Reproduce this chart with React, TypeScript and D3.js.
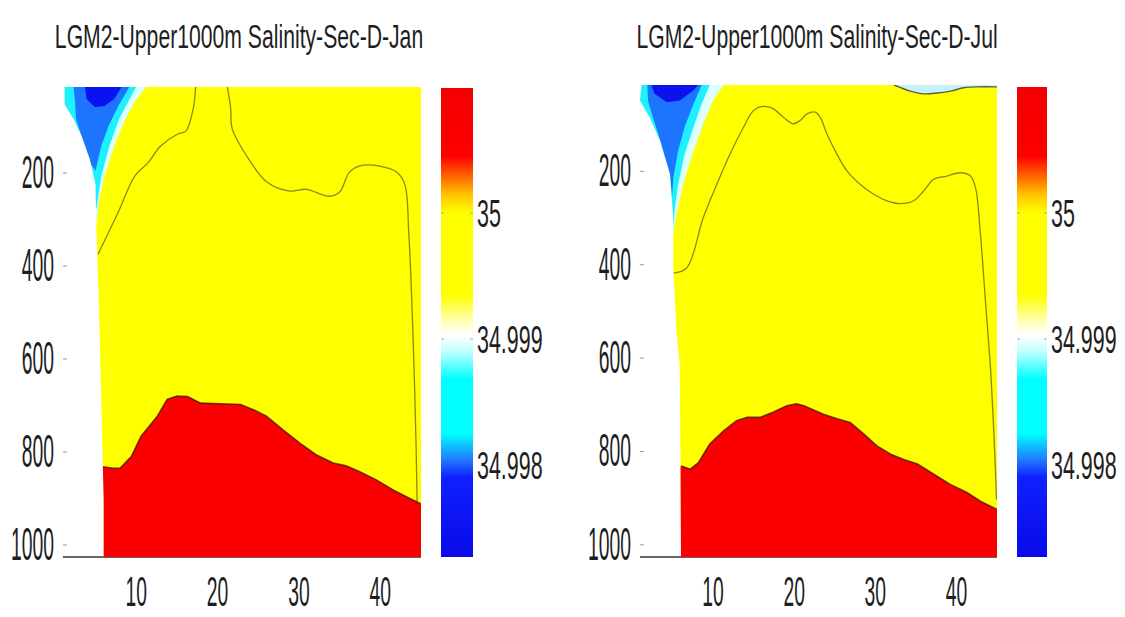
import React from 'react';
import * as d3 from 'd3';

type Pt = [number, number];

// axes
const xDomain: [number, number] = [1, 45];
const depthDomain: [number, number] = [15, 1026];
const xTicks = [10, 20, 30, 40];
const depthTicks = [200, 400, 600, 800, 1000];

// colorbar
const cbarTicks = [35, 34.999, 34.998];
const cbarTickLabels = ['35', '34.999', '34.998'];
const cbarStops = [35.00099, 35.00045, 35.0003, 35.00015, 35.0, 34.99935, 34.99915, 34.99903, 34.9989, 34.99868, 34.99825, 34.99805, 34.9979, 34.99727];
const cbarColors = ['#f20000', '#ff0000', '#ff6000', '#ffc000', '#ffff00', '#ffff00', '#ffffb0', '#ffffff', '#c0ffff', '#00ffff', '#00ffff', '#2080ff', '#1020ff', '#0a0ae8'];

// --- January section: [distance, depth]
const janLeftEdge: Pt[] = [[1.2, 15], [1.2, 52], [2.3, 84], [3.3, 121], [4.3, 170], [5.0, 224], [5.1, 321], [5.4, 472], [5.7, 687], [6.0, 903], [6.0, 1026]];
const janRedTop: Pt[] = [[5.9, 832], [7.2, 835], [8.0, 835], [9.4, 810], [10.6, 766], [12.6, 723], [13.8, 687], [15.0, 680], [16.3, 681], [17.9, 695], [22.8, 698], [24.4, 709], [26.0, 723], [28.0, 752], [30.1, 781], [32.1, 806], [34.2, 824], [35.8, 830], [37.4, 842], [39.5, 860], [41.5, 881], [43.5, 899], [45, 912]];
const janPaleBand: Pt[] = [[11.2, 15], [9.8, 47], [8.5, 90], [7.3, 142], [6.1, 207], [5.4, 263], [5.1, 315]];
const janCyanBand: Pt[] = [[10.0, 15], [9.0, 47], [7.9, 84], [6.7, 142], [5.7, 207], [5.1, 278]];
const janBlueBand: Pt[] = [[9.15, 15], [7.8, 56], [6.6, 99], [5.7, 142], [5.0, 195], [4.4, 180], [3.3, 121], [2.6, 84], [2.5, 50], [2.3, 15]];
const janDarkBlue: Pt[] = [[3.7, 15], [3.9, 41], [4.9, 58], [6.1, 56], [7.3, 41], [8.2, 15]];
const janContourA: Pt[] = [[5.3, 375], [7.8, 284], [9.8, 207], [11.5, 177], [13.0, 142], [15.1, 116], [16.1, 110], [17.0, 62], [17.3, 15]];
const janContourB: Pt[] = [[21.2, 15], [21.6, 60], [21.8, 105], [23.6, 164], [26.1, 220], [28.9, 239], [30.9, 235], [33.7, 250], [35.0, 241], [36.2, 198], [37.4, 185], [39.9, 185], [42.0, 198], [43.0, 224], [43.5, 330], [44.0, 540], [44.4, 790], [44.6, 1000]];

// --- July section
const julLeftEdge: Pt[] = [[1.2, 15], [1.0, 48], [2.2, 84], [3.46, 134], [4.7, 206], [5.1, 299], [5.1, 407], [5.5, 543], [5.9, 616], [6.0, 832], [6.05, 1026]];
const julRedTop: Pt[] = [[6.1, 831], [7.2, 838], [8.2, 824], [9.6, 784], [11.3, 756], [12.9, 734], [14.2, 727], [15.8, 727], [17.4, 716], [19.1, 702], [20.3, 698], [21.2, 702], [23.6, 720], [25.3, 730], [26.9, 738], [28.6, 763], [30.2, 788], [31.9, 806], [33.5, 817], [35.2, 827], [37.6, 853], [39.3, 871], [41.3, 888], [43.0, 907], [45, 924]];
const julPaleBand: Pt[] = [[11.3, 15], [10.0, 48], [8.8, 98], [7.6, 156], [6.3, 228], [5.5, 292], [5.1, 335]];
const julCyanBand: Pt[] = [[9.6, 15], [8.6, 55], [7.6, 105], [6.5, 163], [5.7, 228], [5.3, 278], [5.1, 321]];
const julBlueBand: Pt[] = [[8.6, 15], [7.6, 55], [6.5, 105], [5.7, 156], [5.1, 213], [4.95, 256], [4.7, 206], [3.5, 134], [2.6, 84], [2.0, 50], [1.9, 15]];
const julDarkBlue: Pt[] = [[2.4, 15], [2.8, 34], [4.3, 52], [5.9, 48], [7.6, 26], [8.2, 15]];
const julTopCyan: Pt[] = [[32.3, 15], [32.9, 19], [34.3, 28], [36.0, 34], [37.6, 32], [39.3, 28], [40.9, 21], [42.5, 19], [45, 19]];
const julContourA: Pt[] = [[5.1, 418], [6.75, 407], [8.8, 299], [10.46, 228], [12.1, 163], [13.74, 106], [14.98, 70], [16.2, 61], [17.44, 66], [18.68, 84], [19.9, 98], [20.74, 91], [21.57, 77], [22.6, 73], [23.2, 84], [24.04, 120], [25.27, 163], [26.5, 199], [28.15, 228], [29.8, 249], [31.44, 263], [33.1, 269], [34.73, 263], [35.96, 242], [37.2, 217], [38.85, 210], [40.5, 203], [41.73, 210], [42.35, 235], [42.96, 335], [43.58, 479], [44.2, 623], [44.7, 795], [44.94, 903]];

const FILL = { yellow: '#ffff00', red: '#fa0000', pale: '#dcffff', cyan: '#1ef0ff', blue: '#1c74ff', dark: '#0a12f0', topCyan: '#c4f2ff' };
const FONT = "'Liberation Sans', Arial, Helvetica, sans-serif";

const panels = [
  {
    key: 'jan', title: 'LGM2-Upper1000m Salinity-Sec-D-Jan',
    left: 63, right: 421, top: 87, bottom: 557, cbLeft: 441, cbRight: 473, cbTop: 88, titleX: 239,
    leftEdge: janLeftEdge, redTop: janRedTop, pale: janPaleBand, cyan: janCyanBand, blue: janBlueBand, dark: janDarkBlue,
    topCyan: null as Pt[] | null, contours: [janContourA, janContourB],
  },
  {
    key: 'jul', title: 'LGM2-Upper1000m Salinity-Sec-D-Jul',
    left: 640, right: 997, top: 85, bottom: 557, cbLeft: 1017, cbRight: 1047, cbTop: 87, titleX: 817,
    leftEdge: julLeftEdge, redTop: julRedTop, pale: julPaleBand, cyan: julCyanBand, blue: julBlueBand, dark: julDarkBlue,
    topCyan: julTopCyan as Pt[] | null, contours: [julContourA],
  },
];

function Narrow({ x, y, size, sx, anchor = 'start', children }: any) {
  return (
    <text transform={`translate(${x},${y}) scale(${sx},1)`} fontSize={size} textAnchor={anchor}
      fontFamily={FONT} fill="#1e1e1e">{children}</text>
  );
}

function Panel({ p }: { p: typeof panels[number] }) {
  const x = d3.scaleLinear().domain(xDomain).range([p.left, p.right]);
  const y = d3.scaleLinear().domain(depthDomain).range([p.top, p.bottom]);
  const line = d3.line<Pt>().x(d => x(d[0])).y(d => y(d[1]));
  const smooth = d3.line<Pt>().x(d => x(d[0])).y(d => y(d[1])).curve(d3.curveCatmullRom.alpha(0.5));
  const [x0, x1] = xDomain;
  const [d0, d1] = depthDomain;

  const attachLeft = (pts: Pt[]): Pt[] => [...pts, [x0, pts[pts.length - 1][1]], [x0, d0]];
  const clip: Pt[] = [...p.leftEdge, [x1, d1], [x1, d0]];
  const red: Pt[] = [...p.redTop, [x1, d1], [x0, d1], [x0, p.redTop[0][1]]];

  const cb = d3.scaleLinear().domain([34.998, 35]).range([465, 213]);
  const cbBottom = p.bottom;
  const gradId = `grad-${p.key}`;
  const clipId = `clip-${p.key}`;

  return (
    <g>
      <defs>
        <clipPath id={clipId}><path d={line(clip) + 'Z'} /></clipPath>
        <linearGradient id={gradId} gradientUnits="userSpaceOnUse" x1="0" x2="0" y1={p.cbTop} y2={cbBottom}>
          {cbarStops.map((v, i) => (
            <stop key={i} offset={(cb(v) - p.cbTop) / (cbBottom - p.cbTop)} stopColor={cbarColors[i]} />
          ))}
        </linearGradient>
      </defs>

      <Narrow x={p.titleX} y={48} size={34} sx={0.623} anchor="middle">{p.title}</Narrow>

      {/* x axis line, only visible where there is no data */}
      <line x1={x(x0)} x2={x(x1)} y1={p.bottom} y2={p.bottom} stroke="#333" strokeWidth={1.3} />

      <g clipPath={`url(#${clipId})`}>
        <rect x={p.left} y={p.top} width={p.right - p.left} height={p.bottom - p.top} fill={FILL.yellow} />
        <path d={line(attachLeft(p.pale)) + 'Z'} fill={FILL.pale} />
        <path d={line(attachLeft(p.cyan)) + 'Z'} fill={FILL.cyan} />
        <path d={line(p.blue) + 'Z'} fill={FILL.blue} />
        <path d={line(p.dark) + 'Z'} fill={FILL.dark} />
        {p.topCyan && (
          <>
            <path d={line([...p.topCyan, [x1, d0]]) + 'Z'} fill={FILL.topCyan} />
            <path d={smooth(p.topCyan) || ''} fill="none" stroke="#3a3a2a" strokeWidth={1.4} opacity={0.8} />
          </>
        )}
        {p.contours.map((c, i) => (
          <path key={i} d={smooth(c) || ''} fill="none" stroke="#3a3a2a" strokeWidth={1.3} opacity={0.6} />
        ))}
        <path d={line(red) + 'Z'} fill={FILL.red} />
        <path d={line(p.redTop) || ''} fill="none" stroke="#4a1000" strokeWidth={1.6} opacity={0.75} />
      </g>

      {depthTicks.map(t => (
        <g key={t}>
          <line x1={p.left} x2={p.left + 4} y1={y(t)} y2={y(t)} stroke="#999" strokeWidth={1} />
          <Narrow x={p.left - 9} y={y(t) + 15} size={46} sx={0.42} anchor="end">{t}</Narrow>
        </g>
      ))}
      {xTicks.map(t => (
        <Narrow key={t} x={x(t)} y={606} size={42} sx={0.46} anchor="middle">{t}</Narrow>
      ))}

      <rect x={p.cbLeft} y={p.cbTop} width={p.cbRight - p.cbLeft} height={cbBottom - p.cbTop} fill={`url(#${gradId})`} />
      {cbarTicks.map((v, i) => (
        <g key={v}>
          <line x1={p.cbLeft} x2={p.cbLeft + 3} y1={cb(v)} y2={cb(v)} stroke="#666" opacity={0.5} />
          <line x1={p.cbRight - 3} x2={p.cbRight} y1={cb(v)} y2={cb(v)} stroke="#666" opacity={0.5} />
          <Narrow x={p.cbRight + 4} y={cb(v) + 14} size={39} sx={0.55}>{cbarTickLabels[i]}</Narrow>
        </g>
      ))}
    </g>
  );
}

export default function App() {
  return (
    <svg width={1125} height={617} viewBox="0 0 1125 617"
      style={{ position: 'absolute', left: 0, top: 0, display: 'block', background: '#fff' }}>
      <rect width={1125} height={617} fill="#fff" />
      {panels.map(p => <Panel key={p.key} p={p} />)}
    </svg>
  );
}
